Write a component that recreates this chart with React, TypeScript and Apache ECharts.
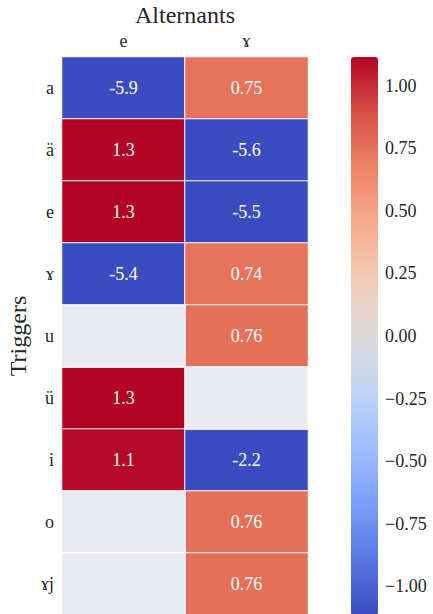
import React, { useEffect, useRef } from "react";
import * as echarts from "echarts";

const columns = ["e", "ɤ"];
const rows = ["a", "ä", "e", "ɤ", "u", "ü", "i", "o", "ɤj"];
const colE: (number | null)[] = [-5.9, 1.3, 1.3, -5.4, null, 1.3, 1.1, null, null];
const colG: (number | null)[] = [0.75, -5.6, -5.5, 0.74, 0.76, null, -2.2, 0.76, 0.76];
const cbTicks = [-1, -0.75, -0.5, -0.25, 0, 0.25, 0.5, 0.75, 1];
const vMin = -1.115;
const vMax = 1.115;
const coolwarm = ["#3b4cc0", "#5977e3", "#7b9ff9", "#9ebeff", "#c0d4f5", "#dddcdc", "#f2cbb7", "#f7ac8e", "#ee8468", "#d65244", "#b40426"];
const missingColor = "#eaeaf2";

const FONT = "Liberation Serif";
const TXT = "#262626";

export default function App() {
  const ref = useRef<HTMLDivElement>(null);
  useEffect(() => {
    const chart = echarts.init(ref.current!, null, { renderer: "svg" });
    const cols = [colE, colG];
    const data: any[] = [];
    const missing: any[] = [];
    cols.forEach((col, ci) => {
      col.forEach((v, ri) => {
        if (v === null) missing.push([ci, ri, 0]);
        else data.push([ci, ri, Math.max(vMin, Math.min(vMax, v)), v]);
      });
    });
    chart.setOption({
      animation: false,
      grid: [
        { left: 62, top: 57, width: 246, height: 558, outerBoundsMode: "none", containLabel: false },
        { left: 351, top: 57, width: 27, height: 558, outerBoundsMode: "none", containLabel: false },
      ],
      xAxis: [
        {
          gridIndex: 0,
          type: "category",
          data: columns,
          position: "top",
          axisLine: { show: false },
          axisTick: { show: false },
          axisLabel: { fontFamily: FONT, fontSize: 18, color: TXT, margin: 7 },
          name: "Alternants",
          nameLocation: "middle",
          nameGap: 26,
          nameTextStyle: { fontFamily: FONT, fontSize: 24, color: TXT },
        },
        { gridIndex: 1, type: "category", data: ["cb"], show: false },
      ],
      yAxis: [
        {
          gridIndex: 0,
          type: "category",
          data: rows,
          inverse: true,
          axisLine: { show: false },
          axisTick: { show: false },
          axisLabel: { fontFamily: FONT, fontSize: 18, color: TXT, margin: 8 },
          name: "Triggers",
          nameLocation: "middle",
          nameGap: 30,
          nameRotate: 90,
          nameTextStyle: { fontFamily: FONT, fontSize: 24, color: TXT },
        },
        {
          gridIndex: 1,
          type: "value",
          min: vMin,
          max: vMax,
          position: "right",
          axisLine: { show: false },
          axisTick: { show: false },
          splitLine: { show: false },
          axisLabel: {
            customValues: cbTicks,
            fontFamily: FONT,
            fontSize: 18,
            color: TXT,
            margin: 7,
            formatter: (v: number) => (v < 0 ? "\u2212" : "") + Math.abs(v).toFixed(2),
          },
        },
      ],
      visualMap: [
        {
          type: "continuous",
          seriesIndex: 0,
          dimension: 2,
          min: vMin,
          max: vMax,
          calculable: false,
          show: true,
          left: 351,
          top: 57,
          itemWidth: 27,
          itemHeight: 558,
          padding: 0,
          text: null,
          showLabel: false,
          inRange: { color: coolwarm },
        },
        {
          type: "continuous",
          seriesIndex: 1,
          dimension: 2,
          min: -1,
          max: 1,
          show: false,
          inRange: { color: [missingColor, missingColor] },
        },
      ],
      series: [
        {
          type: "heatmap",
          xAxisIndex: 0,
          yAxisIndex: 0,
          data,
          itemStyle: { borderColor: "#ffffff", borderWidth: 1 },
          label: {
            show: true,
            color: "#ffffff",
            fontFamily: FONT,
            fontSize: 18,
            formatter: (p: any) => Number(p.value[3]).toPrecision(2),
          },
        },
        {
          type: "heatmap",
          xAxisIndex: 0,
          yAxisIndex: 0,
          data: missing,
          itemStyle: { borderColor: "#ffffff", borderWidth: 1 },
        },
      ],
    });
    return () => chart.dispose();
  }, []);
  return <div ref={ref} style={{ width: 433, height: 614, position: "absolute", left: 0, top: 0 }} />;
}
